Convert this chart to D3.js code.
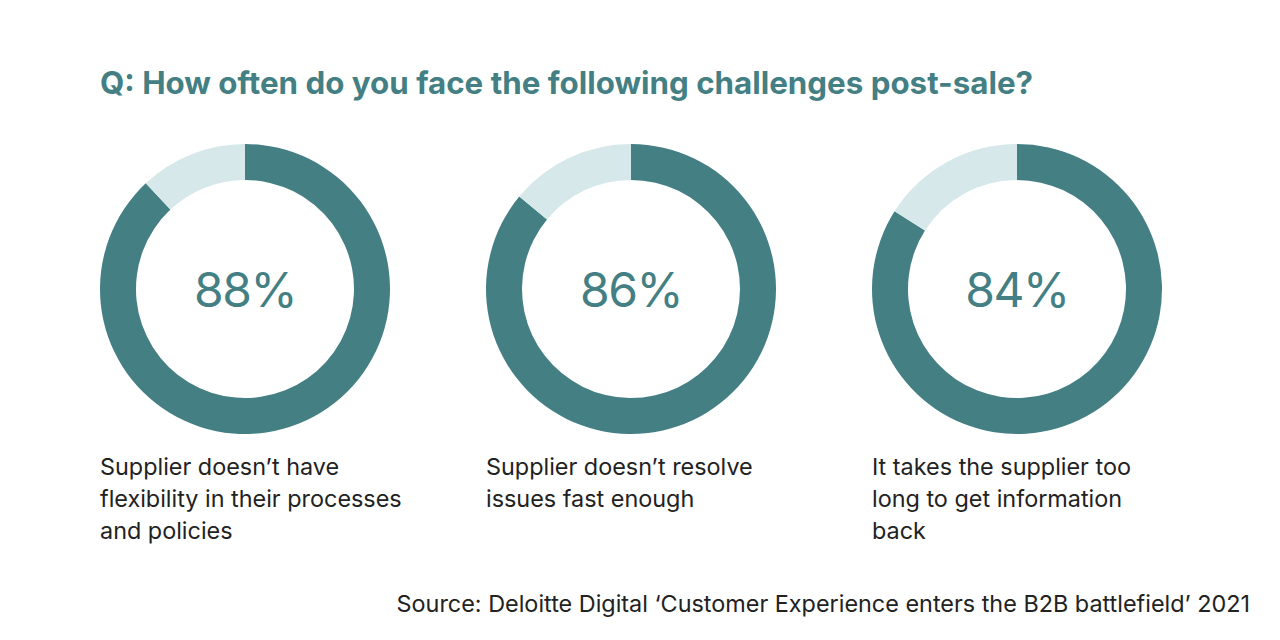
<!DOCTYPE html>
<html><head><meta charset="utf-8">
<script src="https://cdn.jsdelivr.net/npm/d3@7"></script>
<style>html,body{margin:0;padding:0;background:#fff;}</style>
</head><body>
<svg id="chart" width="1280" height="640"></svg>
<script>
const title = "Q: How often do you face the following challenges post-sale?";
const categories = [
  ["Supplier doesn\u2019t have", "flexibility in their processes", "and policies"],
  ["Supplier doesn\u2019t resolve", "issues fast enough"],
  ["It takes the supplier too", "long to get information", "back"]
];
const values = [88, 86, 84];
const source = "Source: Deloitte Digital \u2018Customer Experience enters the B2B battlefield\u2019 2021";

const dark = "#447f84", light = "#d6e8ea", textCol = "#222222";
const font = "Inter, 'DejaVu Sans', sans-serif";
const svg = d3.select("#chart");

svg.append("text").attr("x", 100).attr("y", 94)
  .attr("font-family", font).attr("font-weight", 700).attr("font-size", 31.3)
  .attr("fill", dark).text(title);

const x = d3.scalePoint().domain(d3.range(values.length)).range([245, 1017]);
const outerR = 145, innerR = 109, cy = 289;
const arc = d3.arc().innerRadius(innerR).outerRadius(outerR);
const pie = d3.pie().sort(null).value(d => d);

values.forEach((v, i) => {
  const g = svg.append("g").attr("transform", `translate(${x(i)},${cy})`);
  g.selectAll("path").data(pie([v, 100 - v])).join("path")
    .attr("d", arc).attr("fill", (d, j) => j === 0 ? dark : light);
  g.append("text").attr("text-anchor", "middle").attr("y", 18)
    .attr("font-family", font).attr("font-size", 48).attr("letter-spacing", -1.5)
    .attr("fill", dark).text(v + "%");
  const t = svg.append("text").attr("x", x(i) - outerR).attr("y", 475)
    .attr("font-family", font).attr("font-size", 23.4).attr("fill", textCol);
  categories[i].forEach((line, k) => {
    t.append("tspan").attr("x", x(i) - outerR).attr("y", 475 + k * 32).text(line);
  });
});

svg.append("text").attr("x", 1250).attr("y", 612).attr("text-anchor", "end")
  .attr("font-family", font).attr("font-size", 23.4).attr("fill", textCol).text(source);
</script>
</body></html>
